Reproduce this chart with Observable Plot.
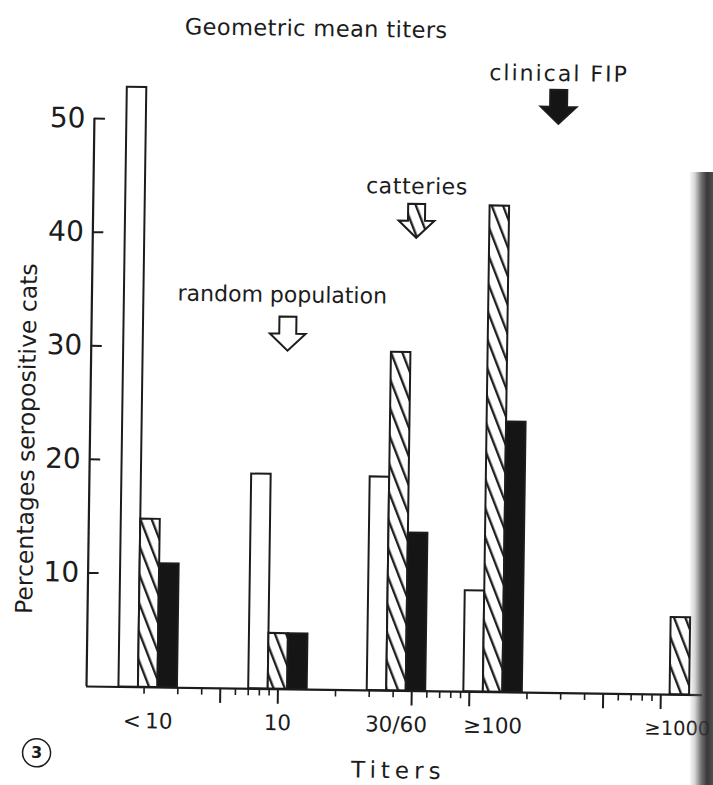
<!DOCTYPE html>
<html>
<head>
<meta charset="utf-8">
<script src="https://cdn.jsdelivr.net/npm/d3@7"></script>
<script src="https://cdn.jsdelivr.net/npm/@observablehq/plot@0.6"></script>
<style>
  html, body { margin: 0; padding: 0; background: #fff; }
  body { width: 713px; height: 785px; overflow: hidden; position: relative; font-family: "DejaVu Sans", sans-serif; color: #1c1c1c; }
  #fig { position: absolute; left: 0; top: 0; width: 713px; height: 785px; transform-origin: 86px 686px; transform: rotate(0.8deg); }
  #title { position: absolute; left: 0; top: 12px; width: 614px; text-align: center; font-size: 22.5px; line-height: 26px; letter-spacing: 0.4px; }
  #chart { position: absolute; left: 0; top: 50px; }
  #band { position: absolute; left: 689px; top: 172px; width: 24px; height: 613px;
    background: linear-gradient(to right, rgba(110,110,110,0) 0px, rgba(110,110,110,0.3) 6px, rgba(70,70,70,0.75) 12px, rgba(45,45,45,0.95) 18px, rgba(60,60,60,0.9) 24px); }
</style>
</head>
<body>
<div id="fig">
  <div id="title">Geometric mean titers</div>
  <div id="chart"></div>
</div>
<div id="band"></div>
<script>
// ---- data ----
const groups = ["<\u200910", "10", "30/60", "≥100", "≥1000"];
const groupTiter = [2.1, 10, 41.6, 133, 1257];          // position of each titer class on the log titer axis
const seriesNames = ["random population", "catteries", "clinical FIP"];
const randomPopulation = [52.8, 18.9, 18.8, 8.9, 0];
const catteries = [14.8, 4.9, 29.8, 42.8, 6.8];
const clinicalFIP = [10.9, 4.9, 13.9, 23.8, 0];
const meanTiters = [10.6, 48.9, 265];                    // geometric mean titer of each population (arrows)
const yTicks = [10, 20, 30, 40, 50];
const minorTicks = [2, 3, 4, 6, 7, 8, 9, 20, 30, 40, 60, 70, 80, 90, 200, 300, 400, 600, 700, 800, 900];
const majorTicks = [5, 10, 50, 100, 500, 1000];

// ---- layout / style ----
const W = 713, H = 735;
const mL = 86, mR = 11, mT = 68, mB = 99;
const xDomain = [1, 1650];
const barPx = 19.5;
const arrowLevel = [31.3, 41.4, 51.6];
const labelLevel = [34.7, 44.4, 54.5];
const labelDx = [-6, 0, 0];
const letterSpacing = {"catteries": "0.6px", "clinical FIP": "2px", "Titers": "5px"};
const fills = ["#ffffff", "url(#hatch)", "#151515"];
const ink = "#1c1c1c";

const decadePx = (W - mL - mR) / Math.log10(xDomain[1] / xDomain[0]);
const f = Math.pow(10, barPx / decadePx);
const seriesValues = [randomPopulation, catteries, clinicalFIP];
const rows = [];
seriesValues.forEach((vals, si) => vals.forEach((v, gi) => {
  if (v > 0) rows.push({si, series: seriesNames[si], group: groups[gi], value: v,
    x1: groupTiter[gi] * Math.pow(f, si - 1.5), x2: groupTiter[gi] * Math.pow(f, si - 0.5)});
}));

const arrowSymbol = {
  draw(ctx, size) {
    const r = Math.sqrt(size / Math.PI);
    const sw = 0.5 * r, hw = 1.05 * r;
    ctx.moveTo(-sw, -r); ctx.lineTo(sw, -r); ctx.lineTo(sw, 0); ctx.lineTo(hw, 0);
    ctx.lineTo(0, r); ctx.lineTo(-hw, 0); ctx.lineTo(-sw, 0); ctx.closePath();
  }
};

const lastG = groups.length - 1;
const marks = [];
[0, 1, 2].forEach(si => marks.push(Plot.rect(rows.filter(d => d.si === si), {
  x1: "x1", x2: "x2", y1: 0, y2: "value", fill: fills[si], stroke: ink, strokeWidth: 2
})));
marks.push(
  Plot.ruleY([0], {stroke: ink, strokeWidth: 2.2}),
  Plot.ruleX([1], {y1: 0, y2: 50, stroke: ink, strokeWidth: 2.2}),
  Plot.ruleY(yTicks, {x1: 1, x2: 1, insetRight: -11, stroke: ink, strokeWidth: 2}),
  Plot.text(yTicks, {x: 1, y: d => d, text: d => String(d), textAnchor: "end", dx: -9, fontSize: 28, fill: ink}),
  Plot.ruleX(minorTicks, {y1: 0, y2: 0, insetBottom: -7, stroke: ink, strokeWidth: 1.6}),
  Plot.ruleX(majorTicks, {y1: 0, y2: 0, insetBottom: -15, stroke: ink, strokeWidth: 2}),
  Plot.text(groups.slice(0, lastG), {x: (d, i) => groupTiter[i], y: 0, text: d => d, dy: 34, fontSize: 21.5, fill: ink}),
  Plot.text([groups[lastG]], {x: () => groupTiter[lastG], y: 0, text: d => d, dy: 34, dx: 31, textAnchor: "end", fontSize: 19.5, fill: ink}),
  Plot.text(["Titers"], {frameAnchor: "bottom", text: d => d, textAnchor: "middle", lineAnchor: "middle", dx: 5, dy: 80, fontSize: 23, fill: ink}),
  Plot.text(["Percentages seropositive cats"], {frameAnchor: "left", text: d => d, textAnchor: "middle", lineAnchor: "middle", rotate: -90, dx: -63, dy: 37, fontSize: 23.5, fill: ink}),
  Plot.dot([0], {frameAnchor: "bottom-left", dx: -49, dy: 67, r: 14, stroke: ink, strokeWidth: 1.5, fill: "none"}),
  Plot.text(["3"], {frameAnchor: "bottom-left", text: d => d, textAnchor: "middle", lineAnchor: "middle", dx: -49, dy: 67, fontSize: 16, fontWeight: 600, fill: ink})
);
[0, 1, 2].forEach(i => {
  marks.push(Plot.dot([i], {x: d => meanTiters[d], y: d => arrowLevel[d], symbol: arrowSymbol, r: 17,
    fill: fills[i], stroke: ink, strokeWidth: 2}));
  marks.push(Plot.text([i], {x: d => meanTiters[d], y: d => labelLevel[d], text: d => seriesNames[d],
    dx: labelDx[i], fontSize: 22, fill: ink}));
});

const svg = Plot.plot({
  width: W, height: H, marginLeft: mL, marginRight: mR, marginTop: mT, marginBottom: mB,
  x: {type: "log", domain: xDomain, axis: null},
  y: {domain: [0, 50], axis: null},
  style: {fontFamily: "DejaVu Sans, sans-serif", fontSize: "22px", color: ink, background: "transparent", overflow: "visible"},
  marks
});
svg.querySelectorAll("text").forEach(t => {
  const ls = letterSpacing[t.textContent];
  if (ls) t.style.letterSpacing = ls;
});
const ns = "http://www.w3.org/2000/svg";
const defs = document.createElementNS(ns, "defs");
defs.innerHTML = '<pattern id="hatch" patternUnits="userSpaceOnUse" width="10.5" height="10.5" patternTransform="rotate(-22)">' +
  '<rect width="10.5" height="10.5" fill="#fff"/><line x1="5" y1="-1" x2="5" y2="11.5" stroke="#1c1c1c" stroke-width="2.3"/></pattern>';
svg.insertBefore(defs, svg.firstChild);
document.getElementById("chart").appendChild(svg);
</script>
</body>
</html>
